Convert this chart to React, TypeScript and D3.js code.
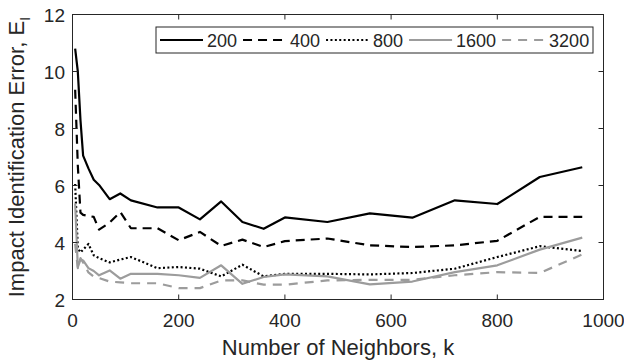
import React from "react";
import * as d3 from "d3";

const kValues = [5, 10, 15, 20, 30, 40, 50, 70, 90, 110, 160, 200, 240, 280, 320, 360, 400, 480, 560, 640, 720, 800, 880, 960];
const s200 = [10.8, 10.0, 8.3, 7.05, 6.6, 6.2, 6.02, 5.52, 5.72, 5.48, 5.23, 5.23, 4.81, 5.44, 4.72, 4.48, 4.88, 4.72, 5.02, 4.87, 5.48, 5.35, 6.3, 6.64];
const s400 = [9.36, 6.7, 5.05, 4.97, 4.93, 4.9, 4.45, 4.7, 5.07, 4.5, 4.5, 4.08, 4.37, 3.88, 4.1, 3.84, 4.05, 4.14, 3.9, 3.84, 3.9, 4.06, 4.9, 4.9];
const s800 = [6.05, 3.8, 3.65, 3.75, 3.95, 3.55, 3.45, 3.3, 3.4, 3.49, 3.1, 3.14, 3.08, 2.81, 3.22, 2.81, 2.9, 2.9, 2.88, 2.93, 3.08, 3.49, 3.87, 3.7];
const s1600 = [5.37, 3.14, 3.4, 3.37, 3.1, 3.0, 2.85, 3.02, 2.73, 2.9, 2.9, 2.85, 2.76, 3.2, 2.55, 2.79, 2.88, 2.81, 2.53, 2.63, 2.96, 3.2, 3.75, 4.17];
const s3200 = [3.95, 3.1, 3.45, 3.3, 2.95, 2.8, 2.75, 2.63, 2.6, 2.57, 2.57, 2.4, 2.4, 2.67, 2.67, 2.52, 2.52, 2.67, 2.69, 2.69, 2.85, 2.96, 2.93, 3.58];
const seriesNames = ["200", "400", "800", "1600", "3200"];
const xTicks = [0, 200, 400, 600, 800, 1000];
const yTicks = [2, 4, 6, 8, 10, 12];

const TEXT = "#262626";
const GRAY = "#9c9c9c";
const FONT = "'Liberation Sans', Arial, Helvetica, sans-serif";

const styles = [
  { color: "#000", dash: "none", width: 2.2 },
  { color: "#000", dash: "9,6", width: 2.2 },
  { color: "#000", dash: "2,2.4", width: 2.2 },
  { color: GRAY, dash: "none", width: 2.2 },
  { color: GRAY, dash: "9,7", width: 2.2 },
];

export default function App() {
  const W = 624, H = 362;
  const left = 72.5, right = 603.5, top = 14.5, bottom = 299.5;
  const x = d3.scaleLinear().domain([0, 1000]).range([left, right]);
  const y = d3.scaleLinear().domain([2, 12]).range([bottom, top]);
  const allSeries = [s200, s400, s800, s1600, s3200];
  const line = d3.line<number>().x((_, i) => x(kValues[i])).y((v) => y(v));

  // legend layout
  const legX = 156, legY = 27, legH = 26, sampleLen = 43, fs = 18;
  const textW = (t: string) => t.length * 0.556 * fs;
  let cx = legX + 4;
  const legItems = seriesNames.map((n, i) => {
    const item = { name: n, x0: cx, style: styles[i] };
    cx += sampleLen + 4 + textW(n) + 6;
    return item;
  });
  const legW = 593 - legX;

  return (
    <svg width={W} height={H} style={{ display: "block", position: "absolute", left: 0, top: 0 }} fontFamily={FONT}>
      <rect x={0} y={0} width={W} height={H} fill="#fff" />
      {allSeries.map((s, i) => (
        <path key={i} d={line(s) || ""} fill="none" stroke={styles[i].color} strokeWidth={styles[i].width}
          strokeDasharray={styles[i].dash} strokeLinejoin="round" />
      ))}
      {/* axes box */}
      <rect x={left} y={top} width={right - left} height={bottom - top} fill="none" stroke={TEXT} strokeWidth={1} />
      {xTicks.map((t) => (
        <g key={"x" + t}>
          <line x1={x(t)} x2={x(t)} y1={bottom} y2={bottom - 5} stroke={TEXT} />
          <line x1={x(t)} x2={x(t)} y1={top} y2={top + 5} stroke={TEXT} />
          <text x={x(t)} y={327} textAnchor="middle" fontSize={19} fill={TEXT}>{t}</text>
        </g>
      ))}
      {yTicks.map((t) => (
        <g key={"y" + t}>
          <line x1={left} x2={left + 5} y1={y(t)} y2={y(t)} stroke={TEXT} />
          <line x1={right} x2={right - 5} y1={y(t)} y2={y(t)} stroke={TEXT} />
          <text x={65} y={y(t) + 7} textAnchor="end" fontSize={19} fill={TEXT}>{t}</text>
        </g>
      ))}
      <text x={(left + right) / 2} y={355} textAnchor="middle" fontSize={22} fill={TEXT}>Number of Neighbors, k</text>
      <text transform={`translate(24,${(top + bottom) / 2}) rotate(-90)`} textAnchor="middle" fontSize={22} fill={TEXT}>
        Impact Identification Error, E<tspan fontSize={15} dy={6}>I</tspan>
      </text>
      {/* legend */}
      <rect x={legX} y={legY} width={legW} height={legH} fill="#fff" stroke={TEXT} strokeWidth={1} />
      {legItems.map((it, i) => (
        <g key={"l" + i}>
          <line x1={it.x0} x2={it.x0 + sampleLen} y1={legY + legH / 2} y2={legY + legH / 2}
            stroke={it.style.color} strokeWidth={it.style.width} strokeDasharray={it.style.dash} />
          <text x={it.x0 + sampleLen + 4} y={legY + legH / 2 + 6.5} fontSize={fs} fill={TEXT}>{it.name}</text>
        </g>
      ))}
    </svg>
  );
}
